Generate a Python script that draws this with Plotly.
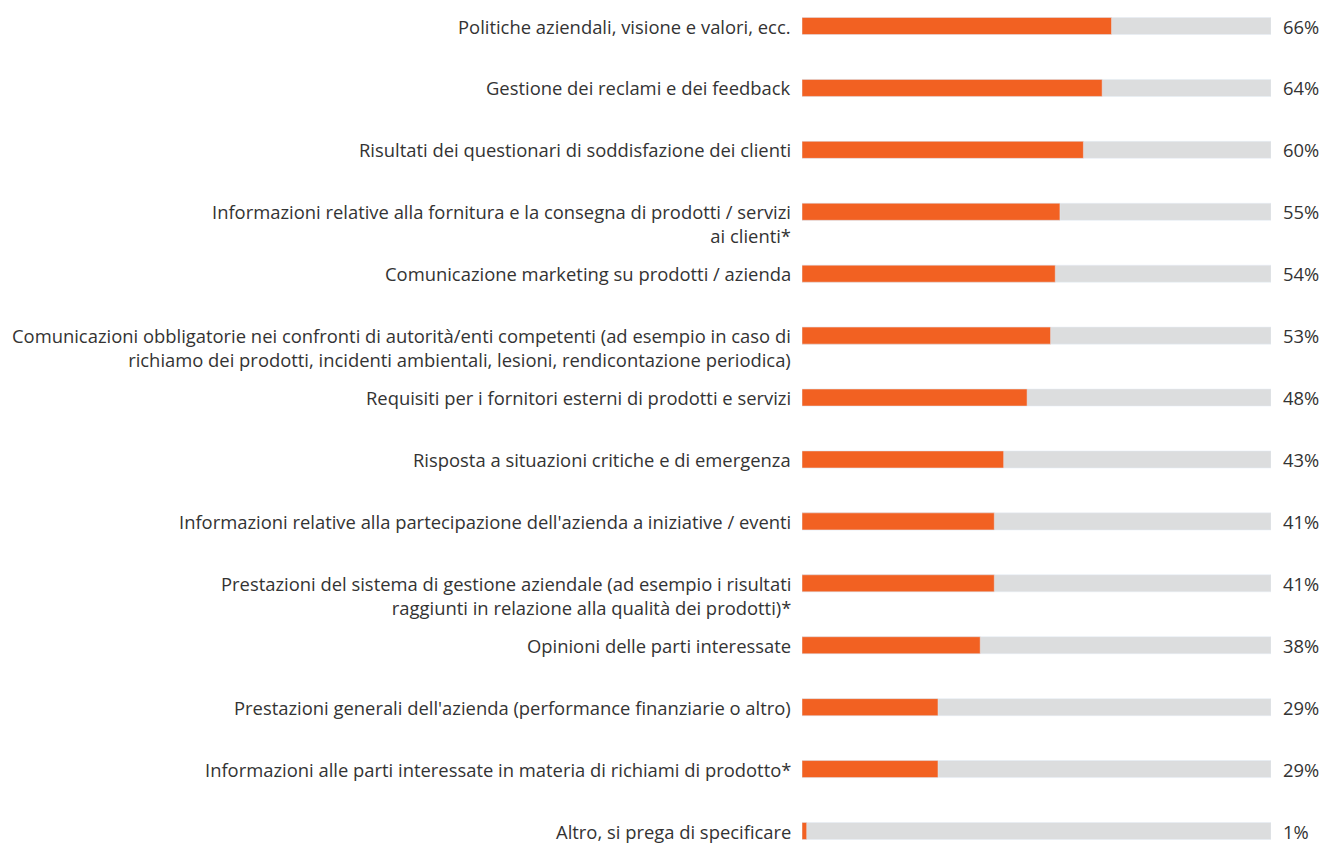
import plotly.graph_objects as go

categories = [
    "Politiche aziendali, visione e valori, ecc.",
    "Gestione dei reclami e dei feedback",
    "Risultati dei questionari di soddisfazione dei clienti",
    "Informazioni relative alla fornitura e la consegna di prodotti / servizi<br>ai clienti*",
    "Comunicazione marketing su prodotti / azienda",
    "Comunicazioni obbligatorie nei confronti di autorità/enti competenti (ad esempio in caso di<br>richiamo dei prodotti, incidenti ambientali, lesioni, rendicontazione periodica)",
    "Requisiti per i fornitori esterni di prodotti e servizi",
    "Risposta a situazioni critiche e di emergenza",
    "Informazioni relative alla partecipazione dell'azienda a iniziative / eventi",
    "Prestazioni del sistema di gestione aziendale (ad esempio i risultati<br>raggiunti in relazione alla qualità dei prodotti)*",
    "Opinioni delle parti interessate",
    "Prestazioni generali dell'azienda (performance finanziarie o altro)",
    "Informazioni alle parti interessate in materia di richiami di prodotto*",
    "Altro, si prega di specificare",
]
values = [66, 64, 60, 55, 54, 53, 48, 43, 41, 41, 38, 29, 29, 1]
track = [100] * len(values)

ORANGE = "#F26122"
GREY = "#DCDDDE"
TEXT = "#333333"
FONT = "'Open Sans', 'Noto Sans', sans-serif"
FS = 18.4

idx = list(range(len(categories)))

fig = go.Figure()
fig.add_trace(go.Bar(x=track, y=idx, orientation="h", marker_color=GREY,
                     width=0.275, hoverinfo="skip", showlegend=False))
fig.add_trace(go.Bar(x=values, y=idx, orientation="h", marker_color=ORANGE,
                     width=0.275, showlegend=False,
                     hovertemplate="%{x}%<extra></extra>"))

for i, (lab, v) in enumerate(zip(categories, values)):
    nlines = lab.count("<br>") + 1
    fig.add_annotation(x=0, xref="paper", y=i, yref="y", text=lab,
                       xanchor="right", yanchor="middle", align="right",
                       xshift=-9, yshift=-(nlines - 1) * FS * 1.3 / 2,
                       showarrow=False, font=dict(size=FS, color=TEXT, family=FONT))
    fig.add_annotation(x=1, xref="paper", y=i, yref="y", text=f"{v}%",
                       xanchor="left", yanchor="middle", xshift=10,
                       showarrow=False, font=dict(size=FS, color=TEXT, family=FONT))

fig.update_layout(
    barmode="overlay",
    width=1322, height=844,
    margin=dict(l=802, r=51, t=0, b=0),
    paper_bgcolor="white", plot_bgcolor="white",
    xaxis=dict(range=[0, 100], visible=False, fixedrange=True),
    yaxis=dict(range=[13.21, -0.42], visible=False, fixedrange=True),
    font=dict(family=FONT, color=TEXT),
)

fig.write_html("out.html", config={"displayModeBar": False},
               post_script="document.body.style.margin='0';document.body.style.overflow='hidden';")
